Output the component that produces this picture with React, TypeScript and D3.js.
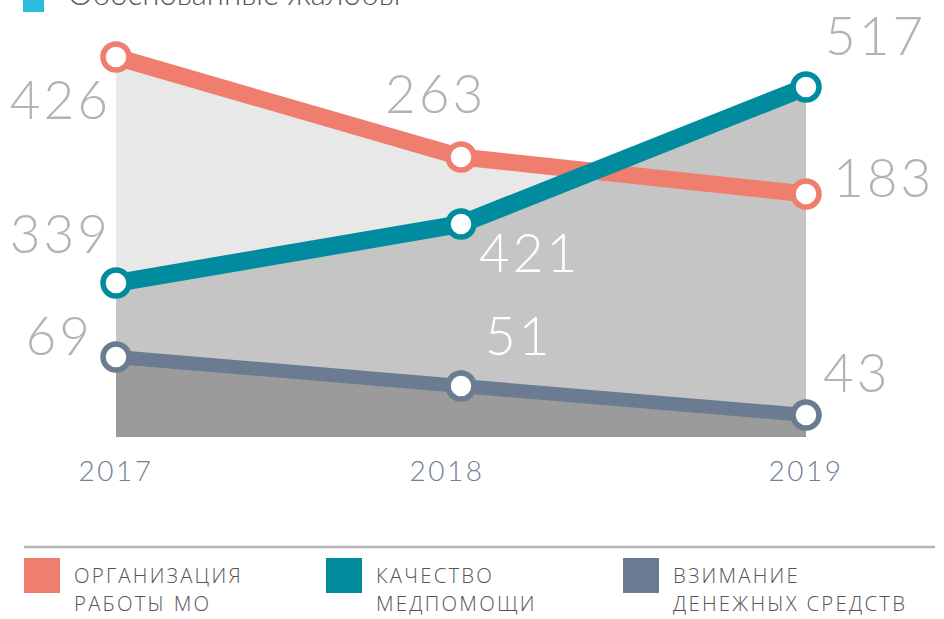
import * as d3 from 'd3';
import { useRef, useEffect } from 'react';

// years on the x axis
const years = ['2017', '2018', '2019'];

// complaint counts shown as labels
const orgValues = [426, 263, 183];
const qualityValues = [339, 421, 517];
const chargeValues = [69, 51, 43];

// the artwork is not drawn to scale: levels (0..380 drawn units)
const orgLevel = [380, 280, 243];
const qualityLevel = [154, 213, 350];
const chargeLevel = [80, 51, 22];

const legendNames = [
  ['ОРГАНИЗАЦИЯ', 'РАБОТЫ МО'],
  ['КАЧЕСТВО', 'МЕДПОМОЩИ'],
  ['ВЗИМАНИЕ', 'ДЕНЕЖНЫХ СРЕДСТВ'],
];

const topLegend = 'Обоснованные жалобы';

export default function App() {
  const svgRef = useRef<SVGSVGElement>(null);
  const width = 944;
  const height = 619;

  useEffect(() => {
    document.body.style.margin = '0';
    const svg = d3.select(svgRef.current);
    svg.selectAll('*').remove();

    const x = d3.scalePoint().domain(years).range([116, 806]);
    const y = d3.scaleLinear().domain([0, 380]).range([437, 57]);

    const series = [
      { name: 'org', values: orgValues, level: orgLevel, color: '#F07E6E', area: '#E8E8E8', width: 17 },
      { name: 'quality', values: qualityValues, level: qualityLevel, color: '#008C9E', area: '#C5C5C5', width: 18 },
      { name: 'charge', values: chargeValues, level: chargeLevel, color: '#6A7B92', area: '#9B9B9B', width: 14 },
    ];

    // top legend (cut off by the frame, as in the source)
    svg.append('rect')
      .attr('x', 23).attr('y', -20).attr('width', 21).attr('height', 32)
      .attr('fill', '#2EBCDD');
    svg.append('text')
      .attr('x', 68).attr('y', 5)
      .text(topLegend)
      .style('font-family', 'Lato, "Open Sans", sans-serif')
      .style('font-weight', 300)
      .style('font-size', '31px')
      .style('fill', '#555');

    const area = d3.area<number>()
      .x((d, i) => x(years[i])!)
      .y0(y(0))
      .y1(d => y(d));

    const line = d3.line<number>()
      .x((d, i) => x(years[i])!)
      .y(d => y(d));

    // areas under each series
    svg.selectAll('.area')
      .data(series)
      .join('path')
      .attr('class', 'area')
      .attr('d', d => area(d.level))
      .attr('fill', d => d.area);

    // lines
    svg.selectAll('.line')
      .data(series)
      .join('path')
      .attr('class', 'line')
      .attr('d', d => line(d.level))
      .attr('fill', 'none')
      .attr('stroke', d => d.color)
      .attr('stroke-width', d => d.width)
      .attr('stroke-linejoin', 'round');

    // markers
    series.forEach(s => {
      svg.selectAll(`.dot-${s.name}`)
        .data(s.level)
        .join('circle')
        .attr('class', `dot-${s.name}`)
        .attr('cx', (d, i) => x(years[i])!)
        .attr('cy', d => y(d))
        .attr('r', 13)
        .attr('fill', '#fff')
        .attr('stroke', s.color)
        .attr('stroke-width', 5.5);
    });

    // value labels, hand placed like in the artwork
    const labelPos: Record<string, [number, number, string, string][]> = {
      org: [[-5, 62, 'end', '#B3B3B3'], [-76, -44, 'start', '#B3B3B3'], [27, 3, 'start', '#B3B3B3']],
      quality: [[-5, -30, 'end', '#B3B3B3'], [18, 48, 'start', '#fff'], [19, -32, 'start', '#B3B3B3']],
      charge: [[-23, -2, 'end', '#B3B3B3'], [24, -31, 'start', '#fff'], [17, -23, 'start', '#B3B3B3']],
    };
    series.forEach(s => {
      svg.selectAll(`.lbl-${s.name}`)
        .data(s.values)
        .join('text')
        .attr('class', `lbl-${s.name}`)
        .attr('x', (d, i) => x(years[i])! + labelPos[s.name][i][0])
        .attr('y', (d, i) => y(s.level[i]) + labelPos[s.name][i][1])
        .attr('text-anchor', (d, i) => labelPos[s.name][i][2])
        .text(d => d)
        .style('font-family', 'Lato, "Open Sans", sans-serif')
        .style('font-weight', 300)
        .style('font-size', '53px')
        .style('letter-spacing', '3px')
        .style('fill', (d, i) => labelPos[s.name][i][3]);
    });

    // year axis labels
    svg.selectAll('.year')
      .data(years)
      .join('text')
      .attr('class', 'year')
      .attr('x', (d, i) => x(d)! + (i === 1 ? -14 : 0))
      .attr('y', 481)
      .attr('text-anchor', 'middle')
      .text(d => d)
      .style('font-family', 'Lato, "Open Sans", sans-serif')
      .style('font-weight', 300)
      .style('font-size', '28px')
      .style('letter-spacing', '2.5px')
      .style('fill', '#6F8199');

    // bottom legend
    svg.append('line')
      .attr('x1', 24).attr('x2', 935)
      .attr('y1', 547).attr('y2', 547)
      .attr('stroke', '#B5B5B5')
      .attr('stroke-width', 2.5);

    const legendX = [24, 326, 623];
    series.forEach((s, i) => {
      const g = svg.append('g').attr('transform', `translate(${legendX[i]},558)`);
      g.append('rect')
        .attr('width', 36).attr('height', 35)
        .attr('fill', s.color);
      legendNames[i].forEach((t, j) => {
        g.append('text')
          .attr('x', 50)
          .attr('y', 25 + j * 28)
          .text(t)
          .style('font-family', '"Open Sans", sans-serif')
          .style('font-weight', 300)
          .style('font-size', '20.4px')
          .style('letter-spacing', '2.2px')
          .style('fill', '#555');
      });
    });
  }, []);

  return <svg ref={svgRef} width={width} height={height} style={{ display: 'block', background: '#fff' }} />;
}
